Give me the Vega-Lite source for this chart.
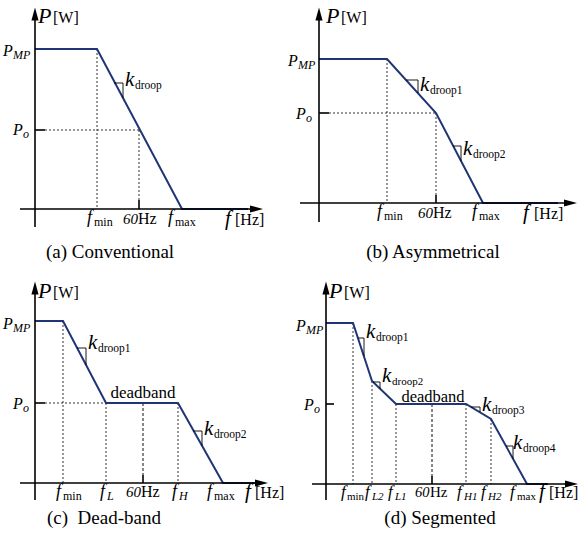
{
  "$schema": "https://vega.github.io/schema/vega-lite/v6.json",
  "width": 585,
  "height": 544,
  "autosize": {"type": "fit", "contains": "padding"},
  "padding": 0,
  "background": "white",
  "config": {"view": {"stroke": null}},
  "datasets": {
    "segs": [
      {"k": "axis", "x": 35, "y": 18, "x2": 35, "y2": 227},
      {"k": "axis", "x": 20, "y": 209, "x2": 256, "y2": 209},
      {"k": "axis", "x": 319, "y": 18, "x2": 319, "y2": 222},
      {"k": "axis", "x": 300, "y": 203, "x2": 570, "y2": 203},
      {"k": "axis", "x": 35, "y": 292, "x2": 35, "y2": 500},
      {"k": "axis", "x": 20, "y": 483, "x2": 261, "y2": 483},
      {"k": "axis", "x": 326, "y": 292, "x2": 326, "y2": 500},
      {"k": "axis", "x": 312, "y": 484, "x2": 571, "y2": 484},
      {"k": "tick", "x": 35, "y": 130, "x2": 45, "y2": 130},
      {"k": "tick", "x": 139, "y": 200, "x2": 139, "y2": 209},
      {"k": "tick", "x": 319, "y": 113, "x2": 329, "y2": 113},
      {"k": "tick", "x": 436, "y": 195, "x2": 436, "y2": 203},
      {"k": "tick", "x": 35, "y": 403, "x2": 45, "y2": 403},
      {"k": "tick", "x": 143, "y": 475, "x2": 143, "y2": 483},
      {"k": "tick", "x": 326, "y": 404, "x2": 334, "y2": 404},
      {"k": "tick", "x": 432, "y": 476, "x2": 432, "y2": 484},
      {"k": "dot", "x": 97, "y": 49, "x2": 97, "y2": 209},
      {"k": "dot", "x": 45, "y": 130, "x2": 139, "y2": 130},
      {"k": "dot", "x": 139, "y": 130, "x2": 139, "y2": 200},
      {"k": "dot", "x": 387, "y": 59, "x2": 387, "y2": 203},
      {"k": "dot", "x": 329, "y": 113, "x2": 436, "y2": 113},
      {"k": "dot", "x": 436, "y": 113, "x2": 436, "y2": 195},
      {"k": "dot", "x": 63, "y": 321, "x2": 63, "y2": 483},
      {"k": "dot", "x": 45, "y": 403, "x2": 106, "y2": 403},
      {"k": "dot", "x": 106, "y": 403, "x2": 106, "y2": 483},
      {"k": "dot", "x": 178, "y": 403, "x2": 178, "y2": 483},
      {"k": "dot", "x": 353, "y": 323, "x2": 353, "y2": 484},
      {"k": "dot", "x": 372, "y": 381, "x2": 372, "y2": 484},
      {"k": "dot", "x": 396, "y": 404, "x2": 396, "y2": 484},
      {"k": "dot", "x": 466, "y": 404, "x2": 466, "y2": 484},
      {"k": "dot", "x": 491, "y": 419, "x2": 491, "y2": 484},
      {"k": "dash", "x": 143, "y": 403, "x2": 143, "y2": 475},
      {"k": "dash", "x": 432, "y": 404, "x2": 432, "y2": 476},
      {"k": "tri", "x": 114, "y": 83, "x2": 123, "y2": 83},
      {"k": "tri", "x": 123, "y": 83, "x2": 123, "y2": 98},
      {"k": "tri", "x": 406, "y": 80, "x2": 418, "y2": 80},
      {"k": "tri", "x": 418, "y": 80, "x2": 418, "y2": 93},
      {"k": "tri", "x": 453, "y": 146, "x2": 461, "y2": 146},
      {"k": "tri", "x": 461, "y": 146, "x2": 461, "y2": 161},
      {"k": "tri", "x": 77, "y": 348, "x2": 86, "y2": 348},
      {"k": "tri", "x": 86, "y": 348, "x2": 86, "y2": 365},
      {"k": "tri", "x": 193, "y": 431, "x2": 202, "y2": 431},
      {"k": "tri", "x": 202, "y": 431, "x2": 202, "y2": 446},
      {"k": "tri", "x": 358, "y": 338, "x2": 364, "y2": 338},
      {"k": "tri", "x": 364, "y": 338, "x2": 364, "y2": 356},
      {"k": "tri", "x": 373, "y": 382, "x2": 380, "y2": 382},
      {"k": "tri", "x": 380, "y": 382, "x2": 380, "y2": 389},
      {"k": "tri", "x": 471, "y": 407, "x2": 480, "y2": 407},
      {"k": "tri", "x": 480, "y": 407, "x2": 480, "y2": 412},
      {"k": "tri", "x": 506, "y": 446, "x2": 513, "y2": 446},
      {"k": "tri", "x": 513, "y": 446, "x2": 513, "y2": 459}
    ],
    "curve": [
      {"p": "a", "i": 0, "x": 35, "y": 49}, {"p": "a", "i": 1, "x": 97, "y": 49},
      {"p": "a", "i": 2, "x": 182, "y": 209}, {"p": "a", "i": 3, "x": 248, "y": 209},
      {"p": "b", "i": 0, "x": 319, "y": 59}, {"p": "b", "i": 1, "x": 387, "y": 59},
      {"p": "b", "i": 2, "x": 436, "y": 113}, {"p": "b", "i": 3, "x": 483, "y": 203},
      {"p": "b", "i": 4, "x": 558, "y": 203},
      {"p": "c", "i": 0, "x": 35, "y": 321}, {"p": "c", "i": 1, "x": 63, "y": 321},
      {"p": "c", "i": 2, "x": 106, "y": 403}, {"p": "c", "i": 3, "x": 178, "y": 403},
      {"p": "c", "i": 4, "x": 223, "y": 483}, {"p": "c", "i": 5, "x": 260, "y": 483},
      {"p": "d", "i": 0, "x": 326, "y": 323}, {"p": "d", "i": 1, "x": 353, "y": 323},
      {"p": "d", "i": 2, "x": 372, "y": 381}, {"p": "d", "i": 3, "x": 396, "y": 404},
      {"p": "d", "i": 4, "x": 466, "y": 404}, {"p": "d", "i": 5, "x": 491, "y": 419},
      {"p": "d", "i": 6, "x": 527, "y": 484}, {"p": "d", "i": 7, "x": 548, "y": 484}
    ],
    "arrows": [
      {"dir": "up", "x": 35, "y": 14}, {"dir": "up", "x": 319, "y": 14},
      {"dir": "up", "x": 35, "y": 288}, {"dir": "up", "x": 326, "y": 288},
      {"dir": "right", "x": 256.5, "y": 209}, {"dir": "right", "x": 570.5, "y": 203},
      {"dir": "right", "x": 261.5, "y": 483}, {"dir": "right", "x": 571.5, "y": 484}
    ],
    "texts": [
      {"st": "it", "x": 38, "y": 23, "t": "P", "s": 22}, {"st": "rm", "x": 53, "y": 23, "t": "[W]", "s": 16},
      {"st": "it", "x": 3, "y": 56, "t": "P", "s": 16}, {"st": "it", "x": 13, "y": 59, "t": "MP", "s": 12},
      {"st": "it", "x": 13, "y": 135, "t": "P", "s": 16}, {"st": "it", "x": 23, "y": 138, "t": "o", "s": 12},
      {"st": "it", "x": 87, "y": 223, "t": "f", "s": 18}, {"st": "rm", "x": 94, "y": 226, "t": "min", "s": 12},
      {"st": "it", "x": 123, "y": 224, "t": "60", "s": 15}, {"st": "rm", "x": 138, "y": 224, "t": "Hz", "s": 16},
      {"st": "it", "x": 168, "y": 223, "t": "f", "s": 18}, {"st": "rm", "x": 175, "y": 226, "t": "max", "s": 12},
      {"st": "it", "x": 225, "y": 225, "t": "f", "s": 21}, {"st": "rm", "x": 235, "y": 225, "t": "[Hz]", "s": 16},
      {"st": "it", "x": 125, "y": 86, "t": "k", "s": 21}, {"st": "rm", "x": 135, "y": 89, "t": "droop", "s": 11.5},
      {"st": "ctr", "x": 110, "y": 258, "t": "(a) Conventional", "s": 19},

      {"st": "it", "x": 326, "y": 23, "t": "P", "s": 22}, {"st": "rm", "x": 341, "y": 23, "t": "[W]", "s": 16},
      {"st": "it", "x": 288, "y": 66, "t": "P", "s": 16}, {"st": "it", "x": 298, "y": 69, "t": "MP", "s": 12},
      {"st": "it", "x": 296, "y": 119, "t": "P", "s": 16}, {"st": "it", "x": 306, "y": 122, "t": "o", "s": 12},
      {"st": "it", "x": 377, "y": 217, "t": "f", "s": 18}, {"st": "rm", "x": 384, "y": 220, "t": "min", "s": 12},
      {"st": "it", "x": 418, "y": 218, "t": "60", "s": 15}, {"st": "rm", "x": 433, "y": 218, "t": "Hz", "s": 16},
      {"st": "it", "x": 472, "y": 217, "t": "f", "s": 18}, {"st": "rm", "x": 479, "y": 220, "t": "max", "s": 12},
      {"st": "it", "x": 523, "y": 219, "t": "f", "s": 21}, {"st": "rm", "x": 534, "y": 219, "t": "[Hz]", "s": 16},
      {"st": "it", "x": 420, "y": 91, "t": "k", "s": 21}, {"st": "rm", "x": 430, "y": 94, "t": "droop1", "s": 11.5},
      {"st": "it", "x": 463, "y": 155, "t": "k", "s": 21}, {"st": "rm", "x": 473, "y": 158, "t": "droop2", "s": 11.5},
      {"st": "ctr", "x": 433, "y": 258, "t": "(b) Asymmetrical", "s": 19},

      {"st": "it", "x": 38, "y": 298, "t": "P", "s": 22}, {"st": "rm", "x": 53, "y": 298, "t": "[W]", "s": 16},
      {"st": "it", "x": 3, "y": 329, "t": "P", "s": 16}, {"st": "it", "x": 13, "y": 332, "t": "MP", "s": 12},
      {"st": "it", "x": 13, "y": 409, "t": "P", "s": 16}, {"st": "it", "x": 23, "y": 412, "t": "o", "s": 12},
      {"st": "it", "x": 56, "y": 497, "t": "f", "s": 18}, {"st": "rm", "x": 63, "y": 500, "t": "min", "s": 12},
      {"st": "it", "x": 100, "y": 497, "t": "f", "s": 18}, {"st": "it", "x": 107, "y": 500, "t": "L", "s": 12},
      {"st": "it", "x": 126, "y": 497, "t": "60", "s": 15}, {"st": "rm", "x": 141, "y": 497, "t": "Hz", "s": 16},
      {"st": "it", "x": 172, "y": 497, "t": "f", "s": 18}, {"st": "it", "x": 179, "y": 500, "t": "H", "s": 12},
      {"st": "it", "x": 207, "y": 497, "t": "f", "s": 18}, {"st": "rm", "x": 214, "y": 500, "t": "max", "s": 12},
      {"st": "it", "x": 245, "y": 498, "t": "f", "s": 21}, {"st": "rm", "x": 255, "y": 498, "t": "[Hz]", "s": 16},
      {"st": "it", "x": 88, "y": 349, "t": "k", "s": 21}, {"st": "rm", "x": 98, "y": 352, "t": "droop1", "s": 11.5},
      {"st": "it", "x": 204, "y": 435, "t": "k", "s": 21}, {"st": "rm", "x": 214, "y": 438, "t": "droop2", "s": 11.5},
      {"st": "ctr", "x": 143, "y": 398, "t": "deadband", "s": 17},
      {"st": "ctr", "x": 104, "y": 524, "t": "(c)\u00a0 Dead-band", "s": 19},

      {"st": "it", "x": 329, "y": 298, "t": "P", "s": 22}, {"st": "rm", "x": 344, "y": 298, "t": "[W]", "s": 16},
      {"st": "it", "x": 296, "y": 331, "t": "P", "s": 16}, {"st": "it", "x": 306, "y": 334, "t": "MP", "s": 12},
      {"st": "it", "x": 304, "y": 410, "t": "P", "s": 16}, {"st": "it", "x": 314, "y": 413, "t": "o", "s": 12},
      {"st": "it", "x": 341, "y": 497, "t": "f", "s": 17}, {"st": "rm", "x": 347, "y": 500, "t": "min", "s": 11},
      {"st": "it", "x": 365, "y": 497, "t": "f", "s": 17}, {"st": "it", "x": 372, "y": 500, "t": "L2", "s": 11},
      {"st": "it", "x": 388, "y": 497, "t": "f", "s": 17}, {"st": "it", "x": 395, "y": 500, "t": "L1", "s": 11},
      {"st": "it", "x": 415, "y": 497, "t": "60", "s": 14.5}, {"st": "rm", "x": 430, "y": 497, "t": "Hz", "s": 15},
      {"st": "it", "x": 457, "y": 497, "t": "f", "s": 17}, {"st": "it", "x": 464, "y": 500, "t": "H1", "s": 11},
      {"st": "it", "x": 481, "y": 497, "t": "f", "s": 17}, {"st": "it", "x": 488, "y": 500, "t": "H2", "s": 11},
      {"st": "it", "x": 510, "y": 497, "t": "f", "s": 17}, {"st": "rm", "x": 517, "y": 500, "t": "max", "s": 11},
      {"st": "it", "x": 539, "y": 498, "t": "f", "s": 21}, {"st": "rm", "x": 549, "y": 498, "t": "[Hz]", "s": 16},
      {"st": "it", "x": 366, "y": 338, "t": "k", "s": 21}, {"st": "rm", "x": 376, "y": 341, "t": "droop1", "s": 11.5},
      {"st": "it", "x": 382, "y": 382, "t": "k", "s": 21}, {"st": "rm", "x": 392, "y": 385, "t": "droop2", "s": 11},
      {"st": "it", "x": 482, "y": 411, "t": "k", "s": 21}, {"st": "rm", "x": 492, "y": 414, "t": "droop3", "s": 11.5},
      {"st": "it", "x": 513, "y": 449, "t": "k", "s": 21}, {"st": "rm", "x": 523, "y": 452, "t": "droop4", "s": 11.5},
      {"st": "ctr", "x": 433, "y": 402, "t": "deadband", "s": 16.5},
      {"st": "ctr", "x": 440, "y": 524, "t": "(d) Segmented", "s": 19}
    ]
  },
  "encoding": {
    "x": {"field": "x", "type": "quantitative", "axis": null, "scale": {"domain": [0, 585], "nice": false, "zero": false}},
    "y": {"field": "y", "type": "quantitative", "axis": null, "scale": {"domain": [0, 544], "nice": false, "zero": false, "reverse": true}}
  },
  "layer": [
    {
      "data": {"name": "segs"},
      "transform": [{"filter": "datum.k === 'dot'"}],
      "mark": {"type": "rule", "color": "#333333", "strokeWidth": 1, "strokeDash": [2, 2]},
      "encoding": {"x2": {"field": "x2"}, "y2": {"field": "y2"}}
    },
    {
      "data": {"name": "segs"},
      "transform": [{"filter": "datum.k === 'dash'"}],
      "mark": {"type": "rule", "color": "#111111", "strokeWidth": 1, "strokeDash": [3, 2]},
      "encoding": {"x2": {"field": "x2"}, "y2": {"field": "y2"}}
    },
    {
      "data": {"name": "curve"},
      "mark": {"type": "line", "color": "#1f3575", "strokeWidth": 2},
      "encoding": {"detail": {"field": "p"}, "order": {"field": "i", "type": "quantitative"}}
    },
    {
      "data": {"name": "segs"},
      "transform": [{"filter": "datum.k === 'axis' || datum.k === 'tick'"}],
      "mark": {"type": "rule", "color": "black", "strokeWidth": 1.6},
      "encoding": {"x2": {"field": "x2"}, "y2": {"field": "y2"}}
    },
    {
      "data": {"name": "segs"},
      "transform": [{"filter": "datum.k === 'tri'"}],
      "mark": {"type": "rule", "color": "black", "strokeWidth": 0.9},
      "encoding": {"x2": {"field": "x2"}, "y2": {"field": "y2"}}
    },
    {
      "data": {"name": "arrows"},
      "transform": [{"filter": "datum.dir === 'up'"}],
      "mark": {"type": "point", "shape": "M0,-1L-0.55,1L0.55,1Z", "size": 169, "filled": true, "color": "black", "opacity": 1}
    },
    {
      "data": {"name": "arrows"},
      "transform": [{"filter": "datum.dir === 'right'"}],
      "mark": {"type": "point", "shape": "M1,0L-1,-0.55L-1,0.55Z", "size": 169, "filled": true, "color": "black", "opacity": 1}
    },
    {
      "data": {"name": "texts"},
      "transform": [{"filter": "datum.st === 'it'"}],
      "mark": {"type": "text", "font": "Liberation Serif", "fontStyle": "italic", "align": "left", "baseline": "alphabetic", "color": "black"},
      "encoding": {"text": {"field": "t"}, "size": {"field": "s", "type": "quantitative", "scale": null}}
    },
    {
      "data": {"name": "texts"},
      "transform": [{"filter": "datum.st === 'rm'"}],
      "mark": {"type": "text", "font": "Liberation Serif", "align": "left", "baseline": "alphabetic", "color": "black"},
      "encoding": {"text": {"field": "t"}, "size": {"field": "s", "type": "quantitative", "scale": null}}
    },
    {
      "data": {"name": "texts"},
      "transform": [{"filter": "datum.st === 'ctr'"}],
      "mark": {"type": "text", "font": "Liberation Serif", "align": "center", "baseline": "alphabetic", "color": "black"},
      "encoding": {"text": {"field": "t"}, "size": {"field": "s", "type": "quantitative", "scale": null}}
    }
  ]
}
